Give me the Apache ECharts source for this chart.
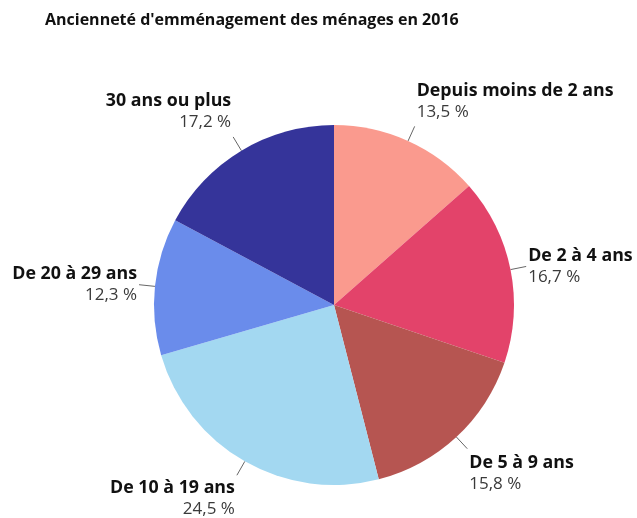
<!DOCTYPE html>
<html>
<head>
<meta charset="utf-8">
<script src="https://cdn.jsdelivr.net/npm/echarts@6/dist/echarts.min.js"></script>
<style>
  html, body { margin: 0; padding: 0; background: #fff; }
  #chart { width: 637px; height: 518px; }
</style>
</head>
<body>
<div id="chart"></div>
<script>
var categories = ['Depuis moins de 2 ans', 'De 2 à 4 ans', 'De 5 à 9 ans', 'De 10 à 19 ans', 'De 20 à 29 ans', '30 ans ou plus']
var values = [13.5, 16.7, 15.8, 24.5, 12.3, 17.2]
var colors = ['#fa9a8e', '#e3436a', '#b65551', '#a3d8f1', '#6a8ceb', '#35349a']
// shift of each label box (top, bottom padding) so text sits above/below the line end
var labelPad = [[0, 0, 50, 0], [0, 0, 0, 0], [50, 0, 0, 0], [46, 0, 0, 0], [0, 0, 0, 0], [0, 0, 50, 0]]

var chart = echarts.init(document.getElementById('chart'))
var data = categories.map(function(name, i) {
  return {
    name: name,
    value: values[i],
    itemStyle: { color: colors[i] },
    label: { padding: labelPad[i] }
  }
})

chart.setOption({
  animation: false,
  title: {
    text: "Ancienneté d'emménagement des ménages en 2016",
    left: 40,
    top: 7,
    textStyle: {
      fontFamily: 'Open Sans',
      fontSize: 16,
      fontWeight: 'bold',
      color: '#111'
    }
  },
  series: [
    {
      type: 'pie',
      center: [334, 305],
      radius: 180,
      startAngle: 90,
      clockwise: true,
      avoidLabelOverlap: false,
      data: data,
      itemStyle: { borderWidth: 0 },
      label: {
        show: true,
        distanceToLabelLine: 2,
        fontFamily: 'Open Sans',
        formatter: function(p) {
          return '{n|' + p.name + '}\n{v|' + p.value.toFixed(1).replace('.', ',') + ' %}'
        },
        rich: {
          n: { fontFamily: 'Open Sans', fontSize: 17.8, fontWeight: 'bold', color: '#111', lineHeight: 21 },
          v: { fontFamily: 'Open Sans', fontSize: 17, color: '#3a3a3a', lineHeight: 21 }
        }
      },
      labelLine: {
        show: true,
        length: 16,
        length2: 0,
        lineStyle: { color: '#666', width: 1 }
      }
    }
  ]
})
</script>
</body>
</html>
